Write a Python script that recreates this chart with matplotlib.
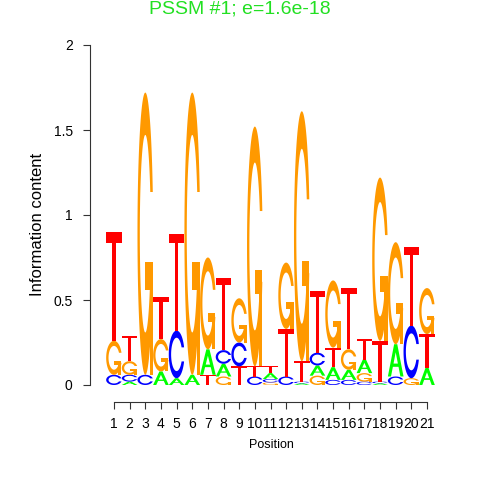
import numpy as np
import matplotlib
matplotlib.use("Agg")
import matplotlib.pyplot as plt
from matplotlib.patches import Polygon

plt.rcParams["font.family"] = ["Liberation Sans", "DejaVu Sans"]

# ─── Data (information content per letter, per position) ─────────────────────

positions = list(range(1, 22))
A = [0.00, 0.02, 0.00, 0.08, 0.04, 0.06, 0.15, 0.075, 0.00, 0.00, 0.035,
     0.00, 0.01, 0.06, 0.075, 0.06, 0.08, 0.01, 0.19, 0.00, 0.10]
C = [0.06, 0.04, 0.06, 0.00, 0.28, 0.00, 0.00, 0.08, 0.14, 0.05, 0.02,
     0.05, 0.01, 0.075, 0.03, 0.03, 0.02, 0.01, 0.05, 0.31, 0.00]
G = [0.20, 0.08, 1.66, 0.19, 0.00, 1.66, 0.54, 0.05, 0.26, 1.41, 0.015,
     0.39, 1.47, 0.055, 0.395, 0.12, 0.05, 0.96, 0.60, 0.04, 0.27]
T = [0.64, 0.15, 0.00, 0.245, 0.57, 0.00, 0.06, 0.425, 0.11, 0.06, 0.04,
     0.28, 0.12, 0.365, 0.115, 0.36, 0.12, 0.24, 0.00, 0.46, 0.20]

title = "PSSM #1; e=1.6e-18"
y_ticks = [0, 0.5, 1, 1.5, 2]
y_tick_labels = ["0", "0.5", "1", "1.5", "2"]

COLORS = {"A": "#00FF00", "C": "#0000FF", "G": "#FF9900", "T": "#FF0000"}


# ─── Letter shapes in a unit box ─────────────────────────────────────────────

def ring():
    a1 = np.linspace(0.3 + np.pi / 2, np.pi, 100)
    a2 = np.linspace(np.pi, 1.5 * np.pi, 100)
    xl = np.concatenate([0.5 + 0.5 * np.sin(a1), 0.5 + 0.5 * np.sin(a2)])
    yl = np.concatenate([0.5 + 0.5 * np.cos(a1), 0.5 + 0.5 * np.cos(a2)])
    top = (0.5 + 0.5 * np.cos(a1)).max()
    x = np.concatenate([xl, xl[::-1]])
    y = np.concatenate([yl, 1 - yl[::-1]])
    xi1 = 0.5 + 0.35 * np.sin(a1)
    yi1 = 0.5 + 0.35 * np.cos(a1)
    keep = yi1 <= top
    xi1, yi1 = xi1[keep], yi1[keep]
    yi1[0] = top
    xi = np.concatenate([xi1, 0.5 + 0.35 * np.sin(a2)])
    yi = np.concatenate([yi1, 0.5 + 0.35 * np.cos(a2)])
    x1 = np.concatenate([xi, xi[::-1]])
    y1 = np.concatenate([yi, 1 - yi[::-1]])
    x = np.concatenate([x, x1[::-1]])
    y = np.concatenate([y, y1[::-1]])
    return np.column_stack([x, y]), (0.5 + 0.5 * np.sin(a1)).max()


def shapes(letter):
    if letter == "A":
        outer = [(0, 0), (0.4, 1), (0.6, 1), (1, 0), (0.8, 0),
                 (0.68, 0.3), (0.32, 0.3), (0.2, 0)]
        hole = [(0.36, 0.4), (0.5, 0.75), (0.64, 0.4)]
        return [(np.array(outer), COLORS["A"]), (np.array(hole), "white")]
    if letter == "T":
        pts = [(0, 1), (1, 1), (1, 0.9), (0.6, 0.9), (0.6, 0), (0.4, 0),
               (0.4, 0.9), (0, 0.9)]
        return [(np.array(pts), COLORS["T"])]
    body, r1 = ring()
    if letter == "C":
        return [(body, COLORS["C"])]
    h1 = 0.4
    add = np.column_stack([[r1, 0.5, 0.5, r1 - 0.2, r1 - 0.2, r1, r1],
                           [h1, h1, h1 - 0.1, h1 - 0.1, 0, 0, h1]])
    return [(body, COLORS["G"]), (add, COLORS["G"])]


def draw_letter(ax, letter, x0, y0, w, h):
    for pts, col in shapes(letter):
        xy = np.column_stack([x0 + w * pts[:, 0], y0 + h * pts[:, 1]])
        ax.add_patch(Polygon(xy, closed=True, facecolor=col,
                             edgecolor="none", linewidth=0))


# ─── Figure ──────────────────────────────────────────────────────────────────

W = H = 480
fig = plt.figure(figsize=(4.8, 4.8), dpi=100)

px0, px21 = 114.0, 427.0          # pixel x of positions 1 and 21
step = (px21 - px0) / 20
py0, scale = 385.0, 170.0         # pixel y of 0, pixels per bit
left, right, top, bottom = 90, 440, 45, 402
ax = fig.add_axes([left / W, 1 - bottom / H, (right - left) / W, (bottom - top) / H])
ax.set_xlim(1 + (left - px0) / step, 1 + (right - px0) / step)
ax.set_ylim(-(bottom - py0) / scale, (py0 - top) / scale)

for j, p in enumerate(positions):
    col = {"A": A[j], "C": C[j], "G": G[j], "T": T[j]}
    ypos = 0.0
    for letter in sorted(col, key=lambda k: col[k]):
        ht = col[letter]
        if ht > 0:
            draw_letter(ax, letter, p - 0.5, ypos, 1.0, ht)
        ypos += ht

for s in ["top", "right"]:
    ax.spines[s].set_visible(False)
ax.spines["left"].set_bounds(0, 2)
ax.spines["bottom"].set_bounds(1, 21)
for s in ["left", "bottom"]:
    ax.spines[s].set_color("#333333")
    ax.spines[s].set_linewidth(0.8)

ax.set_xticks(positions)
ax.set_xticklabels([str(p) for p in positions])
ax.set_yticks(y_ticks)
ax.set_yticklabels(y_tick_labels)
ax.tick_params(axis="both", direction="out", length=5, width=0.8,
               color="#333333", labelsize=10, labelcolor="black")
ax.tick_params(axis="y", pad=7.5)
ax.tick_params(axis="x", pad=6)

fig.text(240 / W, 1 - 9 / H, title, color="#22E022", fontsize=14,
         ha="center", va="center")
fig.text(271 / W, 1 - 445 / H, "Position", fontsize=9, ha="center", va="center")
fig.text(38 / W, 1 - 224 / H, "Information content", fontsize=12,
         rotation=90, ha="center", va="center")

fig.savefig("out.png", dpi=100)
